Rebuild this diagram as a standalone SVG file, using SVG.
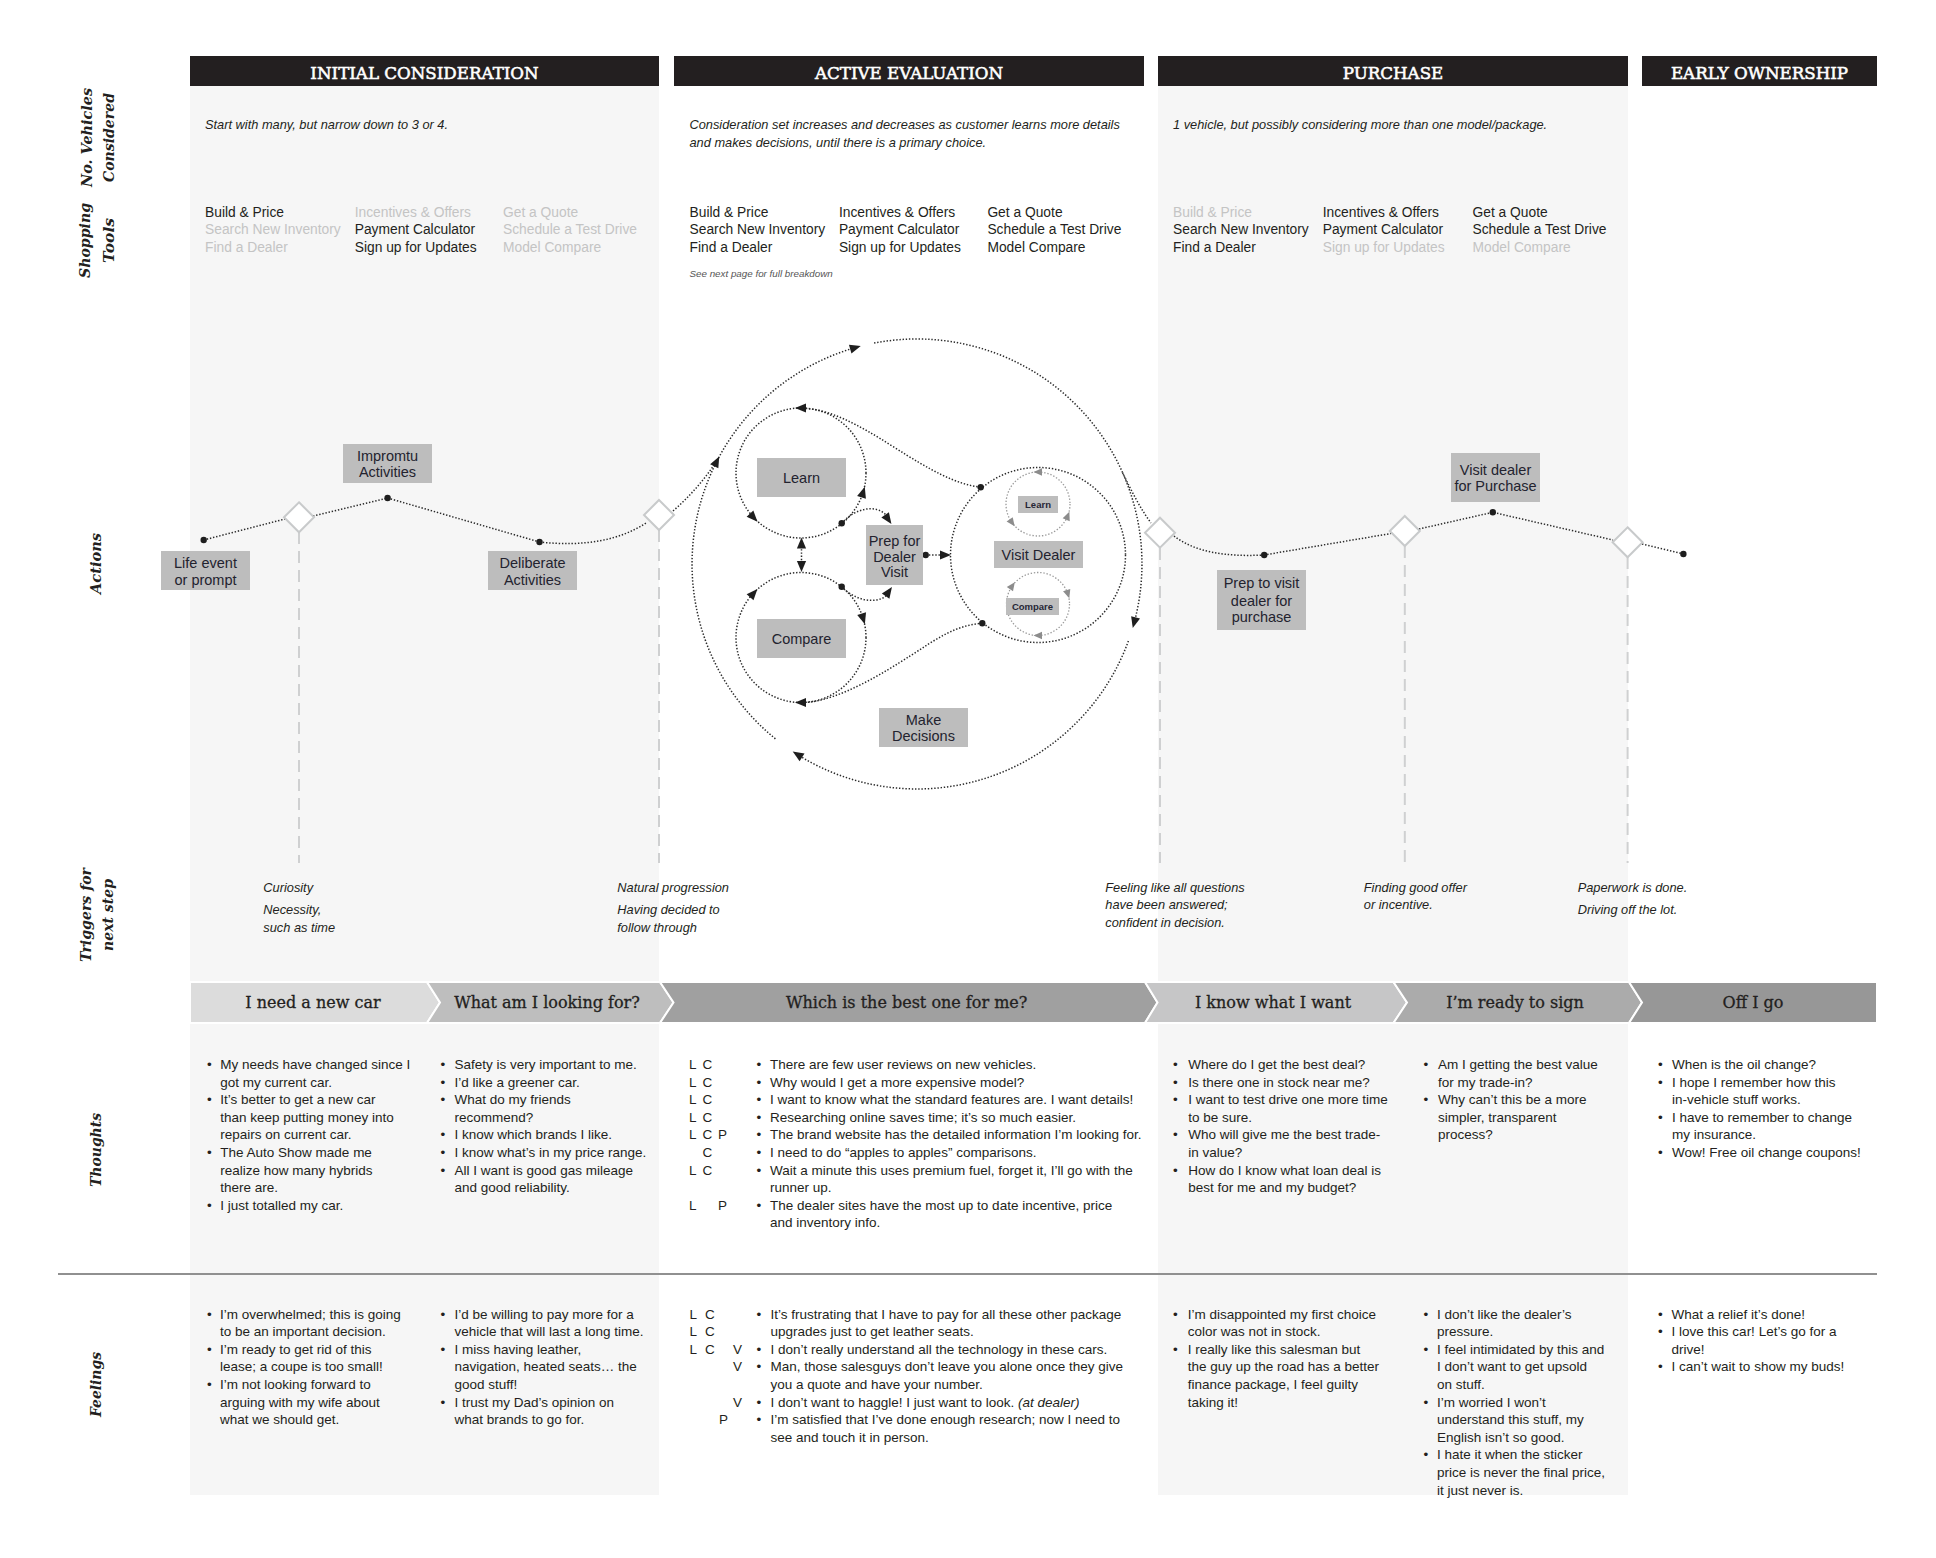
<svg xmlns="http://www.w3.org/2000/svg" xmlns:xlink="http://www.w3.org/1999/xlink" width="1936" height="1558" viewBox="0 0 1936 1558">
<style>
.hdr{font-family:"DejaVu Serif","Liberation Serif",serif;font-size:16.7px;fill:#fff;stroke:#fff;stroke-width:0.55px;text-anchor:middle}
.rowlab{font-family:"DejaVu Serif","Liberation Serif",serif;font-weight:bold;font-style:italic;font-size:15px;fill:#231f20;text-anchor:middle}
.it{font-family:"Liberation Sans",Arial,sans-serif;font-style:italic;font-size:12.8px;fill:#231f20}
.small{font-size:9.8px;fill:#555}
.tool{font-family:"Liberation Sans",Arial,sans-serif;font-size:13.8px;fill:#231f20}
.off{fill:#c4c4c4}
.body{font-family:"Liberation Sans",Arial,sans-serif;font-size:13.5px;fill:#231f20}
.box{fill:#bdbdbd}
.blab{font-family:"Liberation Sans",Arial,sans-serif;font-size:14.5px;fill:#23232f;text-anchor:middle}
.slab{font-family:"Liberation Sans",Arial,sans-serif;font-size:9.5px;font-weight:bold;fill:#272736;text-anchor:middle}
.band{font-family:"DejaVu Serif","Liberation Serif",serif;font-size:16px;fill:#231f20;stroke:#231f20;stroke-width:0.3px;text-anchor:middle}
.dot{fill:none;stroke:#2a2a2a;stroke-width:1.5;stroke-dasharray:1.4 1.8}
.dotg{fill:none;stroke:#9a9a9a;stroke-width:1.3;stroke-dasharray:1.4 1.8}
.dash{stroke:#cfd0d1;stroke-width:2;stroke-dasharray:12 7}
.dia{fill:#fff;stroke:#c8cacb;stroke-width:2}
.pt{fill:#1e1e1e}
.seg{stroke:#fff;stroke-width:2}
</style>
<defs>
<path id="ah" d="M6,0 L-5,-4.6 L-5,4.6 Z" fill="#1e1e1e"/>
<path id="ahs" d="M4.5,0 L-4,-3.8 L-4,3.8 Z" fill="#8c8c8c"/>
<path id="dm" d="M0,-15 L15,0 L0,15 L-15,0 Z"/>
</defs>
<rect width="1936" height="1558" fill="#fff"/>
<g id="columns">
<rect x="190" y="86" width="469" height="1409" fill="#f6f6f6"/>
<rect x="1158" y="86" width="470" height="1409" fill="#f6f6f6"/>
</g>
<g id="headers">
<rect x="190" y="56" width="469" height="30" fill="#231f20"/>
<rect x="674" y="56" width="470" height="30" fill="#231f20"/>
<rect x="1158" y="56" width="470" height="30" fill="#231f20"/>
<rect x="1642" y="56" width="235" height="30" fill="#231f20"/>
<text class="hdr" x="424.5" y="79">INITIAL CONSIDERATION</text>
<text class="hdr" x="909" y="79">ACTIVE EVALUATION</text>
<text class="hdr" x="1393" y="79">PURCHASE</text>
<text class="hdr" x="1759.5" y="79">EARLY OWNERSHIP</text>
</g>
<g id="row-labels">
<text class="rowlab" transform="translate(92,137.5) rotate(-90)" textLength="99" lengthAdjust="spacingAndGlyphs">No. Vehicles</text>
<text class="rowlab" transform="translate(113.5,137.5) rotate(-90)" textLength="89" lengthAdjust="spacingAndGlyphs">Considered</text>
<text class="rowlab" transform="translate(89.5,240.5) rotate(-90)" textLength="75" lengthAdjust="spacingAndGlyphs">Shopping</text>
<text class="rowlab" transform="translate(113.5,240.5) rotate(-90)" textLength="45" lengthAdjust="spacingAndGlyphs">Tools</text>
<text class="rowlab" transform="translate(101,563.5) rotate(-90)" textLength="61" lengthAdjust="spacingAndGlyphs">Actions</text>
<text class="rowlab" transform="translate(91,915) rotate(-90)" textLength="94" lengthAdjust="spacingAndGlyphs">Triggers for</text>
<text class="rowlab" transform="translate(112.5,915) rotate(-90)" textLength="72" lengthAdjust="spacingAndGlyphs">next step</text>
<text class="rowlab" transform="translate(101,1150) rotate(-90)" textLength="74" lengthAdjust="spacingAndGlyphs">Thoughts</text>
<text class="rowlab" transform="translate(101,1384.5) rotate(-90)" textLength="65" lengthAdjust="spacingAndGlyphs">Feelings</text>
</g>
<g id="vehicles-row">
<text class="it" x="205" y="129">Start with many, but narrow down to 3 or 4.</text>
<text class="it"><tspan x="689.5" y="129">Consideration set increases and decreases as customer learns more details</tspan><tspan x="689.5" y="147">and makes decisions, until there is a primary choice.</tspan></text>
<text class="it" x="1173" y="129">1 vehicle, but possibly considering more than one model/package.</text>
</g>
<g id="tools-row">
<text class="tool"><tspan x="205" y="216.7">Build &amp; Price</tspan><tspan class="off" x="205" y="234.3">Search New Inventory</tspan><tspan class="off" x="205" y="251.7">Find a Dealer</tspan></text>
<text class="tool"><tspan class="off" x="354.7" y="216.7">Incentives &amp; Offers</tspan><tspan x="354.7" y="234.3">Payment Calculator</tspan><tspan x="354.7" y="251.7">Sign up for Updates</tspan></text>
<text class="tool off"><tspan x="503" y="216.7">Get a Quote</tspan><tspan x="503" y="234.3">Schedule a Test Drive</tspan><tspan x="503" y="251.7">Model Compare</tspan></text>
<text class="tool"><tspan x="689.5" y="216.7">Build &amp; Price</tspan><tspan x="689.5" y="234.3">Search New Inventory</tspan><tspan x="689.5" y="251.7">Find a Dealer</tspan></text>
<text class="tool"><tspan x="838.9" y="216.7">Incentives &amp; Offers</tspan><tspan x="838.9" y="234.3">Payment Calculator</tspan><tspan x="838.9" y="251.7">Sign up for Updates</tspan></text>
<text class="tool"><tspan x="987.4" y="216.7">Get a Quote</tspan><tspan x="987.4" y="234.3">Schedule a Test Drive</tspan><tspan x="987.4" y="251.7">Model Compare</tspan></text>
<text class="it small" x="689.5" y="277">See next page for full breakdown</text>
<text class="tool"><tspan class="off" x="1173" y="216.7">Build &amp; Price</tspan><tspan x="1173" y="234.3">Search New Inventory</tspan><tspan x="1173" y="251.7">Find a Dealer</tspan></text>
<text class="tool"><tspan x="1322.7" y="216.7">Incentives &amp; Offers</tspan><tspan x="1322.7" y="234.3">Payment Calculator</tspan><tspan class="off" x="1322.7" y="251.7">Sign up for Updates</tspan></text>
<text class="tool"><tspan x="1472.5" y="216.7">Get a Quote</tspan><tspan x="1472.5" y="234.3">Schedule a Test Drive</tspan><tspan class="off" x="1472.5" y="251.7">Model Compare</tspan></text>
</g>
<g id="connectors">
<line class="dash" x1="299" y1="532" x2="299" y2="863"/>
<line class="dash" x1="659" y1="530" x2="659" y2="863"/>
<line class="dash" x1="1160" y1="548" x2="1160" y2="863"/>
<line class="dash" x1="1404.8" y1="546" x2="1404.8" y2="863"/>
<line class="dash" x1="1627.6" y1="557" x2="1627.6" y2="863"/>
<path class="dot" d="M203.7,540 L285,519"/>
<path class="dot" d="M313,516 L387.6,498 L539.5,542"/>
<path class="dot" d="M539.5,542 C585,547 620,540 646,523"/>
<path class="dot" d="M673,511 Q697,490 714,465"/>
<path class="dot" d="M775.4,738.8 A225,225 0 0 1 855,347.7"/>
<path class="dot" d="M874.1,343.1 A225,225 0 0 1 1134.3,622.2"/>
<path class="dot" d="M1128.4,641 A225,225 0 0 1 797.8,754.8"/>
<path class="dot" d="M1122.5,472.5 C1132,492 1140,508 1151,523"/>
<path class="dot" d="M1174,536 C1195,552 1225,557 1264,555"/>
<path class="dot" d="M1264,555 L1391,533.5"/>
<path class="dot" d="M1419,529 L1492.8,512.3 L1613,540"/>
<path class="dot" d="M1642,544 L1683.4,554"/>
<circle class="dot" cx="801" cy="473" r="65"/>
<circle class="dot" cx="801" cy="637.5" r="65"/>
<circle class="dot" cx="1038" cy="555" r="87.5"/>
<circle class="dotg" cx="1038" cy="504" r="32"/>
<circle class="dotg" cx="1038" cy="604" r="31.5"/>
<path class="dot" d="M801.5,546 V564"/>
<path class="dot" d="M841.7,523.3 C855,508 876,504 886,515"/>
<path class="dot" d="M841.7,586.7 C855,601 876,604 886,596"/>
<path class="dot" d="M925.7,555 H942"/>
<path class="dot" d="M980.7,487.3 C955,484 930,470 893.3,446.7 S830,410 806,408.5"/>
<path class="dot" d="M982.3,623.3 C955,625 935,640 910,656 S840,700 806,702.5"/>
<use xlink:href="#ah" transform="translate(716.5,461.8) rotate(297)"/>
<use xlink:href="#ah" transform="translate(855,347.7) rotate(344)"/>
<use xlink:href="#ah" transform="translate(1134.3,622.2) rotate(105)"/>
<use xlink:href="#ah" transform="translate(797.8,754.8) rotate(212)"/>
<use xlink:href="#ah" transform="translate(801,408) rotate(180)"/>
<use xlink:href="#ah" transform="translate(863,492.5) rotate(-72.5)"/>
<use xlink:href="#ah" transform="translate(753.4,517.3) rotate(47)"/>
<use xlink:href="#ah" transform="translate(753.4,593.5) rotate(312)"/>
<use xlink:href="#ah" transform="translate(863.1,618.4) rotate(73)"/>
<use xlink:href="#ah" transform="translate(801,702.5) rotate(180)"/>
<use xlink:href="#ah" transform="translate(801.5,543.5) rotate(-90)"/>
<use xlink:href="#ah" transform="translate(801.5,566) rotate(90)"/>
<use xlink:href="#ah" transform="translate(888,519) rotate(55)"/>
<use xlink:href="#ah" transform="translate(888.5,592) rotate(-55)"/>
<use xlink:href="#ah" transform="translate(945,555) rotate(0)"/>
<use xlink:href="#ahs" transform="translate(1038,472) rotate(180)"/>
<use xlink:href="#ahs" transform="translate(1067.7,516) rotate(-68)"/>
<use xlink:href="#ahs" transform="translate(1012,522.6) rotate(54)"/>
<use xlink:href="#ahs" transform="translate(1012.2,585.9) rotate(305)"/>
<use xlink:href="#ahs" transform="translate(1067.9,594) rotate(72)"/>
<use xlink:href="#ahs" transform="translate(1038,635.5) rotate(180)"/>
<circle class="pt" cx="841.7" cy="523.3" r="3.2"/>
<circle class="pt" cx="841.7" cy="586.7" r="3.2"/>
<circle class="pt" cx="925.7" cy="555" r="3.2"/>
<circle class="pt" cx="980.7" cy="487.3" r="3.2"/>
<circle class="pt" cx="982.3" cy="623.3" r="3.2"/>
</g>
<g id="diamonds" class="dia">
<use id="diamond-1" xlink:href="#dm" x="299" y="517.3"/>
<use id="diamond-2" xlink:href="#dm" x="659" y="515"/>
<use id="diamond-3" xlink:href="#dm" x="1160" y="532.7"/>
<use id="diamond-4" xlink:href="#dm" x="1404.8" y="531"/>
<use id="diamond-5" xlink:href="#dm" x="1627.6" y="542.3"/>
</g>
<g id="action-points">
<circle class="pt" cx="203.7" cy="540" r="3.2"/>
<circle class="pt" cx="387.6" cy="498" r="3.2"/>
<circle class="pt" cx="539.5" cy="542" r="3.2"/>
<circle class="pt" cx="1264.2" cy="555" r="3.2"/>
<circle class="pt" cx="1492.8" cy="512.3" r="3.2"/>
<circle class="pt" cx="1683.4" cy="554" r="3.2"/>
</g>
<g id="node-life-event"><rect class="box" x="161" y="551" width="89" height="39"/><text class="blab"><tspan x="205.5" y="568.3">Life event</tspan><tspan x="205.5" y="585">or prompt</tspan></text></g>
<g id="node-impromtu"><rect class="box" x="343" y="444" width="89" height="39"/><text class="blab"><tspan x="387.5" y="460.7">Impromtu</tspan><tspan x="387.5" y="476.7">Activities</tspan></text></g>
<g id="node-deliberate"><rect class="box" x="488" y="551" width="89" height="39"/><text class="blab"><tspan x="532.5" y="568.3">Deliberate</tspan><tspan x="532.5" y="585">Activities</tspan></text></g>
<g id="node-learn"><rect class="box" x="757" y="458" width="89" height="39"/><text class="blab" x="801.5" y="483">Learn</text></g>
<g id="node-compare"><rect class="box" x="757" y="619" width="89" height="39"/><text class="blab" x="801.5" y="644">Compare</text></g>
<g id="node-prep-dealer"><rect class="box" x="866" y="525" width="57" height="60"/><text class="blab"><tspan x="894.5" y="546">Prep for</tspan><tspan x="894.5" y="561.7">Dealer</tspan><tspan x="894.5" y="577.3">Visit</tspan></text></g>
<g id="node-visit-dealer"><rect class="box" x="994" y="541" width="89" height="27"/><text class="blab" x="1038.5" y="560">Visit Dealer</text></g>
<g id="node-small-learn"><rect class="box" x="1018" y="496" width="40" height="17"/><text class="slab" x="1038" y="508">Learn</text></g>
<g id="node-small-compare"><rect class="box" x="1006" y="598" width="53" height="17"/><text class="slab" x="1032.5" y="610.3">Compare</text></g>
<g id="node-make-decisions"><rect class="box" x="879" y="708" width="89" height="39"/><text class="blab"><tspan x="923.5" y="725">Make</tspan><tspan x="923.5" y="740.7">Decisions</tspan></text></g>
<g id="node-prep-purchase"><rect class="box" x="1217" y="570" width="89" height="60"/><text class="blab"><tspan x="1261.5" y="588.3">Prep to visit</tspan><tspan x="1261.5" y="605.5">dealer for</tspan><tspan x="1261.5" y="622">purchase</tspan></text></g>
<g id="node-visit-purchase"><rect class="box" x="1451" y="453" width="89" height="49"/><text class="blab"><tspan x="1495.5" y="475">Visit dealer</tspan><tspan x="1495.5" y="490.7">for Purchase</tspan></text></g>
<g id="triggers" class="it">
<text><tspan x="263.3" y="892.3">Curiosity</tspan><tspan x="263.3" y="914">Necessity,</tspan><tspan x="263.3" y="931.7">such as time</tspan></text>
<text><tspan x="617.3" y="892.3">Natural progression</tspan><tspan x="617.3" y="914">Having decided to</tspan><tspan x="617.3" y="931.7">follow through</tspan></text>
<text><tspan x="1105.3" y="892.3">Feeling like all questions</tspan><tspan x="1105.3" y="909.3">have been answered;</tspan><tspan x="1105.3" y="926.7">confident in decision.</tspan></text>
<text><tspan x="1363.8" y="892.3">Finding good offer</tspan><tspan x="1363.8" y="909.3">or incentive.</tspan></text>
<text><tspan x="1577.7" y="892.3">Paperwork is done.</tspan><tspan x="1577.7" y="914">Driving off the lot.</tspan></text>
</g>
<g id="thought-band">
<path class="seg" fill="#dcdcdc" d="M190,982 H427 L440,1002.5 L427,1023 H190 Z"/>
<path class="seg" fill="#bebebe" d="M427,982 H660 L673.5,1002.5 L660,1023 H427 L440,1002.5 Z"/>
<path class="seg" fill="#a0a0a0" d="M660,982 H1145 L1157.5,1002.5 L1145,1023 H660 L673.5,1002.5 Z"/>
<path class="seg" fill="#c6c6c7" d="M1145,982 H1393.5 L1407,1002.5 L1393.5,1023 H1145 L1157.5,1002.5 Z"/>
<path class="seg" fill="#ababab" d="M1393.5,982 H1629 L1642,1002.5 L1629,1023 H1393.5 L1407,1002.5 Z"/>
<path class="seg" fill="#979797" d="M1629,982 H1877 V1023 H1629 L1642,1002.5 Z"/>
<text class="band" x="313" y="1008.3">I need a new car</text>
<text class="band" x="547" y="1008.3">What am I looking for?</text>
<text class="band" x="906.7" y="1008.3">Which is the best one for me?</text>
<text class="band" x="1273" y="1008.3">I know what I want</text>
<text class="band" x="1515" y="1008.3">I’m ready to sign</text>
<text class="band" x="1753" y="1008.3">Off I go</text>
</g>
<line x1="58" y1="1274" x2="1877" y2="1274" stroke="#909090" stroke-width="2"/>
<g id="thoughts" class="body">
<text><tspan x="207" y="1069">•</tspan><tspan x="207" y="1104.2">•</tspan><tspan x="207" y="1157">•</tspan><tspan x="207" y="1209.8">•</tspan></text>
<text><tspan x="220.3" y="1069">My needs have changed since I</tspan><tspan x="220.3" y="1086.6">got my current car.</tspan><tspan x="220.3" y="1104.2">It’s better to get a new car</tspan><tspan x="220.3" y="1121.8">than keep putting money into</tspan><tspan x="220.3" y="1139.4">repairs on current car.</tspan><tspan x="220.3" y="1157">The Auto Show made me</tspan><tspan x="220.3" y="1174.6">realize how many hybrids</tspan><tspan x="220.3" y="1192.2">there are.</tspan><tspan x="220.3" y="1209.8">I just totalled my car.</tspan></text>
<text><tspan x="440.6" y="1069">•</tspan><tspan x="440.6" y="1086.6">•</tspan><tspan x="440.6" y="1104.2">•</tspan><tspan x="440.6" y="1139.4">•</tspan><tspan x="440.6" y="1157">•</tspan><tspan x="440.6" y="1174.6">•</tspan></text>
<text><tspan x="454.5" y="1069">Safety is very important to me.</tspan><tspan x="454.5" y="1086.6">I’d like a greener car.</tspan><tspan x="454.5" y="1104.2">What do my friends</tspan><tspan x="454.5" y="1121.8">recommend?</tspan><tspan x="454.5" y="1139.4">I know which brands I like.</tspan><tspan x="454.5" y="1157">I know what’s in my price range.</tspan><tspan x="454.5" y="1174.6">All I want is good gas mileage</tspan><tspan x="454.5" y="1192.2">and good reliability.</tspan></text>
<text><tspan x="689" y="1069">L</tspan><tspan x="702.5" y="1069">C</tspan><tspan x="689" y="1086.6">L</tspan><tspan x="702.5" y="1086.6">C</tspan><tspan x="689" y="1104.2">L</tspan><tspan x="702.5" y="1104.2">C</tspan><tspan x="689" y="1121.8">L</tspan><tspan x="702.5" y="1121.8">C</tspan><tspan x="689" y="1139.4">L</tspan><tspan x="702.5" y="1139.4">C</tspan><tspan x="718" y="1139.4">P</tspan><tspan x="702.5" y="1157">C</tspan><tspan x="689" y="1174.6">L</tspan><tspan x="702.5" y="1174.6">C</tspan><tspan x="689" y="1209.8">L</tspan><tspan x="718" y="1209.8">P</tspan></text>
<text><tspan x="756.6" y="1069">•</tspan><tspan x="756.6" y="1086.6">•</tspan><tspan x="756.6" y="1104.2">•</tspan><tspan x="756.6" y="1121.8">•</tspan><tspan x="756.6" y="1139.4">•</tspan><tspan x="756.6" y="1157">•</tspan><tspan x="756.6" y="1174.6">•</tspan><tspan x="756.6" y="1209.8">•</tspan></text>
<text><tspan x="770" y="1069">There are few user reviews on new vehicles.</tspan><tspan x="770" y="1086.6">Why would I get a more expensive model?</tspan><tspan x="770" y="1104.2">I want to know what the standard features are. I want details!</tspan><tspan x="770" y="1121.8">Researching online saves time; it’s so much easier.</tspan><tspan x="770" y="1139.4">The brand website has the detailed information I’m looking for.</tspan><tspan x="770" y="1157">I need to do “apples to apples” comparisons.</tspan><tspan x="770" y="1174.6">Wait a minute this uses premium fuel, forget it, I’ll go with the</tspan><tspan x="770" y="1192.2">runner up.</tspan><tspan x="770" y="1209.8">The dealer sites have the most up to date incentive, price</tspan><tspan x="770" y="1227.4">and inventory info.</tspan></text>
<text><tspan x="1173" y="1069">•</tspan><tspan x="1173" y="1086.6">•</tspan><tspan x="1173" y="1104.2">•</tspan><tspan x="1173" y="1139.4">•</tspan><tspan x="1173" y="1174.6">•</tspan></text>
<text><tspan x="1188.2" y="1069">Where do I get the best deal?</tspan><tspan x="1188.2" y="1086.6">Is there one in stock near me?</tspan><tspan x="1188.2" y="1104.2">I want to test drive one more time</tspan><tspan x="1188.2" y="1121.8">to be sure.</tspan><tspan x="1188.2" y="1139.4">Who will give me the best trade-</tspan><tspan x="1188.2" y="1157">in value?</tspan><tspan x="1188.2" y="1174.6">How do I know what loan deal is</tspan><tspan x="1188.2" y="1192.2">best for me and my budget?</tspan></text>
<text><tspan x="1423.4" y="1069">•</tspan><tspan x="1423.4" y="1104.2">•</tspan></text>
<text><tspan x="1438" y="1069">Am I getting the best value</tspan><tspan x="1438" y="1086.6">for my trade-in?</tspan><tspan x="1438" y="1104.2">Why can’t this be a more</tspan><tspan x="1438" y="1121.8">simpler, transparent</tspan><tspan x="1438" y="1139.4">process?</tspan></text>
<text><tspan x="1658" y="1069">•</tspan><tspan x="1658" y="1086.6">•</tspan><tspan x="1658" y="1121.8">•</tspan><tspan x="1658" y="1157">•</tspan></text>
<text><tspan x="1672" y="1069">When is the oil change?</tspan><tspan x="1672" y="1086.6">I hope I remember how this</tspan><tspan x="1672" y="1104.2">in-vehicle stuff works.</tspan><tspan x="1672" y="1121.8">I have to remember to change</tspan><tspan x="1672" y="1139.4">my insurance.</tspan><tspan x="1672" y="1157">Wow! Free oil change coupons!</tspan></text>
</g>
<g id="feelings" class="body">
<text><tspan x="207" y="1318.5">•</tspan><tspan x="207" y="1353.7">•</tspan><tspan x="207" y="1388.9">•</tspan></text>
<text><tspan x="220" y="1318.5">I’m overwhelmed; this is going</tspan><tspan x="220" y="1336.1">to be an important decision.</tspan><tspan x="220" y="1353.7">I’m ready to get rid of this</tspan><tspan x="220" y="1371.3">lease; a coupe is too small!</tspan><tspan x="220" y="1388.9">I’m not looking forward to</tspan><tspan x="220" y="1406.5">arguing with my wife about</tspan><tspan x="220" y="1424.1">what we should get.</tspan></text>
<text><tspan x="440.6" y="1318.5">•</tspan><tspan x="440.6" y="1353.7">•</tspan><tspan x="440.6" y="1406.5">•</tspan></text>
<text><tspan x="454.4" y="1318.5">I’d be willing to pay more for a</tspan><tspan x="454.4" y="1336.1">vehicle that will last a long time.</tspan><tspan x="454.4" y="1353.7">I miss having leather,</tspan><tspan x="454.4" y="1371.3">navigation, heated seats… the</tspan><tspan x="454.4" y="1388.9">good stuff!</tspan><tspan x="454.4" y="1406.5">I trust my Dad’s opinion on</tspan><tspan x="454.4" y="1424.1">what brands to go for.</tspan></text>
<text><tspan x="689.5" y="1318.5">L</tspan><tspan x="705" y="1318.5">C</tspan><tspan x="689.5" y="1336.1">L</tspan><tspan x="705" y="1336.1">C</tspan><tspan x="689.5" y="1353.7">L</tspan><tspan x="705" y="1353.7">C</tspan><tspan x="733" y="1353.7">V</tspan><tspan x="733" y="1371.3">V</tspan><tspan x="733" y="1406.5">V</tspan><tspan x="719" y="1424.1">P</tspan></text>
<text><tspan x="756.6" y="1318.5">•</tspan><tspan x="756.6" y="1353.7">•</tspan><tspan x="756.6" y="1371.3">•</tspan><tspan x="756.6" y="1406.5">•</tspan><tspan x="756.6" y="1424.1">•</tspan></text>
<text><tspan x="770.4" y="1318.5">It’s frustrating that I have to pay for all these other package</tspan><tspan x="770.4" y="1336.1">upgrades just to get leather seats.</tspan><tspan x="770.4" y="1353.7">I don’t really understand all the technology in these cars.</tspan><tspan x="770.4" y="1371.3">Man, those salesguys don’t leave you alone once they give</tspan><tspan x="770.4" y="1388.9">you a quote and have your number.</tspan><tspan x="770.4" y="1406.5">I don’t want to haggle! I just want to look. <tspan font-style="italic">(at dealer)</tspan></tspan><tspan x="770.4" y="1424.1">I’m satisfied that I’ve done enough research; now I need to</tspan><tspan x="770.4" y="1441.7">see and touch it in person.</tspan></text>
<text><tspan x="1173" y="1318.5">•</tspan><tspan x="1173" y="1353.7">•</tspan></text>
<text><tspan x="1187.7" y="1318.5">I’m disappointed my first choice</tspan><tspan x="1187.7" y="1336.1">color was not in stock.</tspan><tspan x="1187.7" y="1353.7">I really like this salesman but</tspan><tspan x="1187.7" y="1371.3">the guy up the road has a better</tspan><tspan x="1187.7" y="1388.9">finance package, I feel guilty</tspan><tspan x="1187.7" y="1406.5">taking it!</tspan></text>
<text><tspan x="1423.4" y="1318.5">•</tspan><tspan x="1423.4" y="1353.7">•</tspan><tspan x="1423.4" y="1406.5">•</tspan><tspan x="1423.4" y="1459.3">•</tspan></text>
<text><tspan x="1437" y="1318.5">I don’t like the dealer’s</tspan><tspan x="1437" y="1336.1">pressure.</tspan><tspan x="1437" y="1353.7">I feel intimidated by this and</tspan><tspan x="1437" y="1371.3">I don’t want to get upsold</tspan><tspan x="1437" y="1388.9">on stuff.</tspan><tspan x="1437" y="1406.5">I’m worried I won’t</tspan><tspan x="1437" y="1424.1">understand this stuff, my</tspan><tspan x="1437" y="1441.7">English isn’t so good.</tspan><tspan x="1437" y="1459.3">I hate it when the sticker</tspan><tspan x="1437" y="1476.9">price is never the final price,</tspan><tspan x="1437" y="1494.5">it just never is.</tspan></text>
<text><tspan x="1658" y="1318.5">•</tspan><tspan x="1658" y="1336.1">•</tspan><tspan x="1658" y="1371.3">•</tspan></text>
<text><tspan x="1671.6" y="1318.5">What a relief it’s done!</tspan><tspan x="1671.6" y="1336.1">I love this car! Let’s go for a</tspan><tspan x="1671.6" y="1353.7">drive!</tspan><tspan x="1671.6" y="1371.3">I can’t wait to show my buds!</tspan></text>
</g>
</svg>
